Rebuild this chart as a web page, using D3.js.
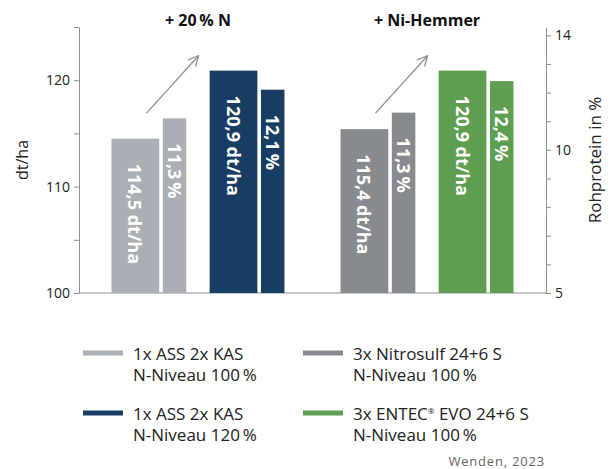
<!DOCTYPE html>
<html>
<head>
<meta charset="utf-8">
<script src="https://cdn.jsdelivr.net/npm/d3@7/dist/d3.min.js"></script>
<style>
  body { margin: 0; background: #fff; }
  svg { font-family: "Open Sans", sans-serif; }
</style>
</head>
<body>
<div id="chart"></div>
<script>
// groups and treatments
const groupTitles = ["+ 20\u2009% N", "+ Ni-Hemmer"];
const treatmentGroup = [0, 0, 1, 1];
const yieldValues = [114.5, 120.9, 115.4, 120.9];
const yieldLabels = ["114,5 dt/ha", "120,9 dt/ha", "115,4 dt/ha", "120,9 dt/ha"];
// protein bars as drawn in the picture (first bar sits a bit below its 11,3 label)
const proteinValues = [11.1, 12.1, 11.3, 12.4];
const proteinLabels = ["11,3\u2009%", "12,1\u2009%", "11,3\u2009%", "12,4\u2009%"];
const legendLine1 = ["1x ASS 2x KAS", "1x ASS 2x KAS", "3x Nitrosulf 24+6 S", "3x ENTEC|EVO 24+6 S"];
const legendLine2 = ["N-Niveau 100\u2009%", "N-Niveau 120\u2009%", "N-Niveau 100\u2009%", "N-Niveau 100\u2009%"];
const colors = ["#a9afb4", "#173e62", "#878b8f", "#5d9e51"];
const leftTickLabels = [100, 110, 120];
const rightTickLabels = [5, 10, 14];

const width = 613, height = 469;
const axisColor = "#8d9195";

const svg = d3.select("#chart").append("svg")
  .attr("width", width)
  .attr("height", height);

const x0 = d3.scaleBand().domain([0, 1]).range([79, 546])
  .paddingInner(0.245).paddingOuter(0.142);
const xi = d3.scaleBand().domain([0, 1]).range([0, x0.bandwidth()])
  .paddingInner(0.238).paddingOuter(0);

const yL = d3.scaleLinear().domain([100, 125]).range([293, 27]);
const yR = d3.scaleLinear().domain([5, 14.29]).range([293, 27]);

// position helpers for each treatment
function tX(i) {
  const g = treatmentGroup[i];
  const k = treatmentGroup.slice(0, i).filter(d => d === g).length;
  return x0(g) + xi(k);
}
const bw = xi.bandwidth();
const yieldW = bw * 0.638;
const protX = bw * 0.686;
const protW = bw - protX;

// left axis
const axL = svg.append("g")
  .attr("transform", "translate(79,0)")
  .call(d3.axisLeft(yL).tickValues(d3.range(100, 126, 5)).tickSize(5).tickSizeOuter(0)
    .tickFormat(d => leftTickLabels.includes(d) ? d : ""));
// right axis
const axR = svg.append("g")
  .attr("transform", "translate(546,0)")
  .call(d3.axisRight(yR).tickValues(d3.range(5, 15, 1)).tickSize(5).tickSizeOuter(0)
    .tickFormat(d => rightTickLabels.includes(d) ? d : ""));

[axL, axR].forEach(ax => {
  ax.select(".domain").attr("stroke", axisColor);
  ax.selectAll(".tick line").attr("stroke", axisColor);
  ax.selectAll(".tick text")
    .attr("fill", "#222")
    .style("font-size", "14px")
    .style("font-family", "'Open Sans', sans-serif");
});
axL.selectAll(".tick text").attr("x", -9);
axR.selectAll(".tick text").attr("x", 9);

// baseline
svg.append("line")
  .attr("x1", 79).attr("x2", 546)
  .attr("y1", yL(100)).attr("y2", yL(100))
  .attr("stroke", axisColor);

// axis titles
svg.append("text")
  .attr("transform", `translate(28,${(yL.range()[0] + yL.range()[1]) / 2}) rotate(-90)`)
  .attr("text-anchor", "middle")
  .attr("fill", "#222")
  .style("font-size", "16px")
  .text("dt/ha");
svg.append("text")
  .attr("transform", `translate(601,${(yR.range()[0] + yR.range()[1]) / 2}) rotate(-90)`)
  .attr("text-anchor", "middle")
  .attr("fill", "#222")
  .style("font-size", "17px")
  .text("Rohprotein in %");

// bars
const idx = d3.range(yieldValues.length);
svg.append("g").selectAll("rect.y")
  .data(idx).enter().append("rect")
  .attr("x", i => tX(i))
  .attr("width", yieldW)
  .attr("y", i => yL(yieldValues[i]))
  .attr("height", i => yL(100) - yL(yieldValues[i]))
  .attr("fill", i => colors[i]);
svg.append("g").selectAll("rect.p")
  .data(idx).enter().append("rect")
  .attr("x", i => tX(i) + protX)
  .attr("width", protW)
  .attr("y", i => yR(proteinValues[i]))
  .attr("height", i => yR(5) - yR(proteinValues[i]))
  .attr("fill", i => colors[i]);

// bar labels (rotated)
function barLabel(xc, ytop, txt) {
  svg.append("text")
    .attr("transform", `translate(${xc},${ytop + 25}) rotate(90)`)
    .attr("dominant-baseline", "central")
    .attr("fill", "#fff")
    .style("font-size", "18px")
    .style("font-weight", "700")
    .text(txt);
}
idx.forEach(i => {
  barLabel(tX(i) + yieldW / 2, yL(yieldValues[i]), yieldLabels[i]);
  barLabel(tX(i) + protX + protW / 2, yR(proteinValues[i]), proteinLabels[i]);
});

// group titles
svg.append("g").selectAll("text")
  .data(groupTitles).enter().append("text")
  .attr("x", (d, g) => x0(g) + x0.bandwidth() / 2)
  .attr("y", 26)
  .attr("text-anchor", "middle")
  .attr("fill", "#111")
  .style("font-size", "16px")
  .style("font-weight", "700")
  .text(d => d);

// arrows
svg.append("defs").append("marker")
  .attr("id", "arr")
  .attr("viewBox", "0 0 12 12")
  .attr("refX", 11).attr("refY", 6)
  .attr("markerWidth", 12).attr("markerHeight", 12)
  .attr("markerUnits", "userSpaceOnUse")
  .attr("orient", "auto")
  .append("path")
  .attr("d", "M1,1 L11,6 L1,11")
  .attr("fill", "none")
  .attr("stroke", axisColor)
  .attr("stroke-width", 1.3);
svg.append("g").selectAll("line")
  .data([0, 1]).enter().append("line")
  .attr("x1", g => x0(g) + 35)
  .attr("y1", yL(116.9))
  .attr("x2", g => x0(g) + 87)
  .attr("y2", yL(122.3))
  .attr("stroke", axisColor)
  .attr("stroke-width", 1.3)
  .attr("marker-end", "url(#arr)");

// legend
const legX = [83, 303], legY = [353, 413];
const legendPos = [[0, 0], [0, 1], [1, 0], [1, 1]]; // [col,row]
const leg = svg.append("g").selectAll("g")
  .data(idx).enter().append("g")
  .attr("transform", i => `translate(${legX[legendPos[i][0]]},${legY[legendPos[i][1]]})`);
leg.append("rect")
  .attr("x", 0).attr("y", -2.5)
  .attr("width", 40).attr("height", 5)
  .attr("fill", i => colors[i]);
leg.each(function (i) {
  const g = d3.select(this);
  const t1 = g.append("text").attr("x", 50).attr("y", 6.5)
    .attr("fill", "#222").style("font-size", "17px");
  const parts = legendLine1[i].split("|");
  t1.append("tspan").text(parts[0]);
  if (parts.length > 1) {
    t1.append("tspan").attr("dy", -6).style("font-size", "8px").text("\u00ae");
    t1.append("tspan").attr("dy", 6).text(" " + parts[1]);
  }
  g.append("text").attr("x", 50).attr("y", 27.5)
    .attr("fill", "#222").style("font-size", "17px")
    .text(legendLine2[i]);
});

// source note
svg.append("text")
  .attr("x", 545).attr("y", 466)
  .attr("text-anchor", "end")
  .attr("fill", "#666")
  .style("font-size", "13px")
  .style("letter-spacing", "0.8px")
  .text("Wenden, 2023");
</script>
</body>
</html>
